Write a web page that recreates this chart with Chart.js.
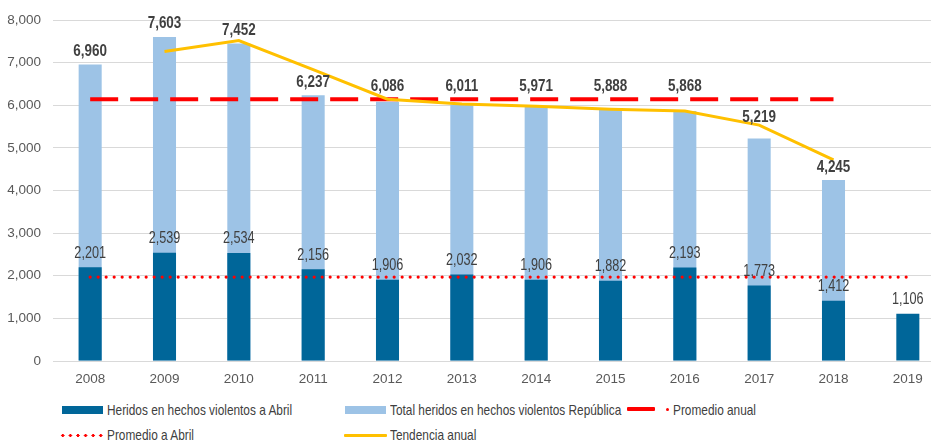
<!DOCTYPE html>
<html>
<head>
<meta charset="utf-8">
<script src="https://cdn.jsdelivr.net/npm/chart.js@4/dist/chart.umd.min.js"></script>
<style>
  html, body { margin:0; padding:0; background:#fff; width:931px; height:442px; overflow:hidden; }
  #wrap { position:relative; width:931px; height:442px; }
  canvas { position:absolute; left:0; top:0; }
  .lg { position:absolute; font-family:"Liberation Sans",Arial,sans-serif; font-size:15px; color:#404040; white-space:nowrap; line-height:16px; transform:scaleX(0.79); transform-origin:0 50%; }
  .sw { position:absolute; }
</style>
</head>
<body>
<div id="wrap">
  <canvas id="c" width="945" height="395"></canvas>
  <div class="sw" style="left:62px;top:406px;width:41px;height:8px;background:#006699"></div>
  <div class="lg" style="left:107px;top:402px">Heridos en hechos violentos a Abril</div>
  <div class="sw" style="left:345px;top:406px;width:41px;height:8px;background:#9DC3E6"></div>
  <div class="lg" style="left:390px;top:402px">Total heridos en hechos violentos República</div>
  <div class="sw" style="left:627px;top:407px;width:28px;height:4px;background:#FF0000;border-radius:1px"></div>
  <div class="sw" style="left:666px;top:408px;width:3px;height:3px;background:#FF0000;border-radius:50%"></div>
  <div class="lg" style="left:673px;top:402px">Promedio anual</div>
  <div class="sw" style="left:59px;top:434px;width:45px;height:3px;background-image:radial-gradient(circle,#FF0000 1.4px,transparent 1.7px);background-size:7.6px 3px;"></div>
  <div class="lg" style="left:107px;top:427px">Promedio a Abril</div>
  <div class="sw" style="left:344px;top:434px;width:43px;height:3px;background:#FFC000;border-radius:1px"></div>
  <div class="lg" style="left:390px;top:427px">Tendencia anual</div>
</div>
<script>
const years = ['2008','2009','2010','2011','2012','2013','2014','2015','2016','2017','2018','2019'];
const heridosAbril = [2201,2539,2534,2156,1906,2032,1906,1882,2193,1773,1412,1106];
const totalRepublica = [6960,7603,7452,6237,6086,6011,5971,5888,5868,5219,4245,null];
const promedioAnual = [6140,6140,6140,6140,6140,6140,6140,6140,6140,6140,6140,null];
const promedioAbril = [1970,1970,1970,1970,1970,1970,1970,1970,1970,1970,1970,1970];
const tendenciaAnual = [null,7265,7520,6840,6145,6030,5980,5910,5865,5535,4720,null];
const yTicks = [0,1000,2000,3000,4000,5000,6000,7000,8000];

const FONT = '"Liberation Sans",Arial,sans-serif';
const fmt = v => v.toLocaleString('en-US');

function narrowText(ctx, text, x, y, sx) {
  ctx.save();
  ctx.translate(x, y);
  ctx.scale(sx, 1);
  ctx.fillText(text, 0, 0);
  ctx.restore();
}

const labelPlugin = {
  id: 'valueLabels',
  afterDatasetsDraw(chart) {
    const ctx = chart.ctx;
    const yScale = chart.scales.y;
    ctx.save();
    ctx.textAlign = 'center';
    ctx.textBaseline = 'middle';
    ctx.fillStyle = '#404040';
    const metaTotal = chart.getDatasetMeta(1);
    ctx.font = 'bold 16px ' + FONT;
    metaTotal.data.forEach((el, i) => {
      const v = totalRepublica[i];
      if (v == null) return;
      let y = el.y - 13;
      // keep the label clear of the overlaid lines: [value, tolerance, gap]
      const avoid = [[promedioAnual[i], 12, 13], [tendenciaAnual[i], 5, 8]];
      avoid.forEach(([lv, tol, gap]) => {
        if (lv == null) return;
        const ly = yScale.getPixelForValue(lv);
        if (Math.abs(y - ly) < tol) y = ly - gap;
      });
      narrowText(ctx, fmt(v), el.x, y, 0.84);
    });
    const metaAbril = chart.getDatasetMeta(0);
    ctx.font = '16px ' + FONT;
    metaAbril.data.forEach((el, i) => {
      const v = heridosAbril[i];
      if (v == null) return;
      narrowText(ctx, fmt(v), el.x, el.y - 14, 0.79);
    });
    ctx.restore();
  }
};

new Chart(document.getElementById('c'), {
  data: {
    labels: years,
    datasets: [
      { type:'bar', label:'Heridos en hechos violentos a Abril', data: heridosAbril, backgroundColor:'#006699', grouped:false, categoryPercentage:1, barPercentage:0.31, order:3 },
      { type:'bar', label:'Total heridos en hechos violentos República', data: totalRepublica, backgroundColor:'#9DC3E6', grouped:false, categoryPercentage:1, barPercentage:0.31, order:4 },
      { type:'line', label:'Promedio anual', data: promedioAnual, borderColor:'#FF0000', borderWidth:4, borderDash:[28,12], borderCapStyle:'butt', pointRadius:0, fill:false, order:1 },
      { type:'line', label:'Promedio a Abril', data: promedioAbril, borderColor:'#FF0000', borderWidth:3.2, borderDash:[0,8], borderCapStyle:'round', pointRadius:0, fill:false, order:2 },
      { type:'line', label:'Tendencia anual', data: tendenciaAnual, borderColor:'#FFC000', borderWidth:3, pointRadius:0, fill:false, tension:0, order:0 }
    ]
  },
  options: {
    responsive:false,
    animation:false,
    devicePixelRatio:1,
    layout:{ padding:{ top:19, right:0, bottom:0, left:0 } },
    plugins:{ legend:{ display:false }, tooltip:{ enabled:false } },
    scales:{
      x:{
        type:'category',
        offset:true,
        grid:{ display:false, drawTicks:false },
        border:{ display:false },
        ticks:{ color:'#595959', font:{ family:FONT, size:13.5 }, padding:10, maxRotation:0 },
        afterFit(s){ s.height = 34; }
      },
      y:{
        min:0, max:8000,
        afterBuildTicks(s){ s.ticks = yTicks.map(v => ({ value:v })); },
        grid:{ color:'#D9D9D9', lineWidth:1, drawTicks:false },
        border:{ display:false },
        ticks:{ color:'#595959', font:{ family:FONT, size:13.5 }, padding:12, callback: v => fmt(v) },
        afterFit(s){ s.width = 53; }
      }
    }
  },
  plugins:[labelPlugin]
});
</script>
</body>
</html>
